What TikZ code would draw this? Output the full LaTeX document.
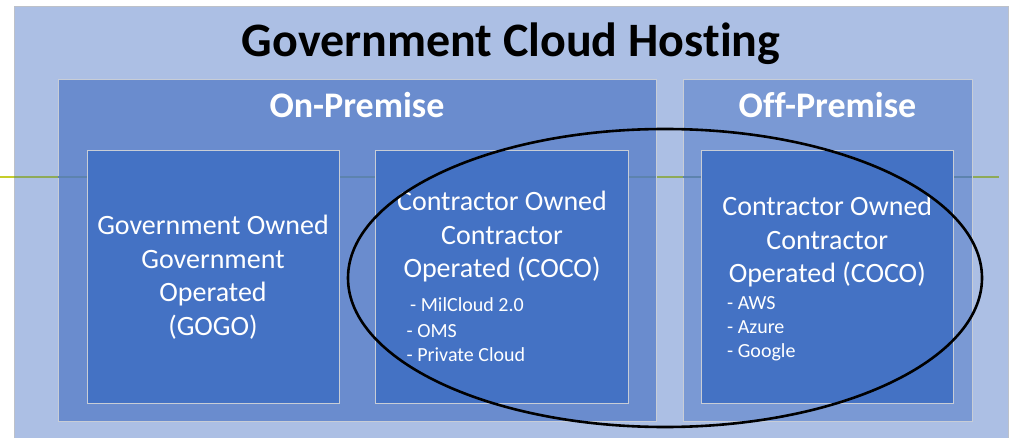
\documentclass[tikz,border=0pt]{standalone}
\usepackage{fontspec}
\setmainfont{Carlito}[Ligatures=NoCommon]
\usetikzlibrary{shapes.geometric}
\definecolor{outerfill}{RGB}{172,191,228}
\definecolor{onfill}{RGB}{106,140,206}
\definecolor{offfill}{RGB}{122,153,212}
\definecolor{innerfill}{RGB}{68,114,196}
\definecolor{edgegray}{RGB}{200,205,214}
\definecolor{railyellow}{RGB}{198,206,42}
\definecolor{railgreen}{RGB}{142,170,88}
\definecolor{railblue}{RGB}{93,131,174}
\tikzset{
  panel/.style={draw=edgegray, line width=0.9pt, inner sep=0pt, outer sep=0pt},
  premise/.style={panel, fill=onfill},
  cellbox/.style={panel, fill=innerfill},
  % anchor=base of a multi-line node sits on its last line
  celltext/.style={text=white, align=center, font=\fontsize{28}{33.5}\selectfont, inner sep=0pt, anchor=base},
  listtext/.style={text=white, align=left, font=\fontsize{20}{25}\selectfont, inner sep=0pt, anchor=base west},
  headtext/.style={text=white, font=\fontsize{36}{42}\selectfont\bfseries, inner sep=0pt, anchor=base},
  rail/.style={line width=2pt}
}
\begin{document}
\begin{tikzpicture}[x=1pt,y=-1pt]
\useasboundingbox (0,0) rectangle (1009,438);
\clip (0,0) rectangle (1009,438);
\fill[white] (0,0) rectangle (1009,438);

% outer frame
\node[panel, fill=outerfill, draw=edgegray!85!gray, minimum width=994pt, minimum height=440pt] (frame) at (511,226) {};

% horizontal rail behind the panels
\coordinate (railA) at (0,176.7);
\coordinate (railB) at (14,176.7);
\coordinate (railC) at (999,176.7);
\draw[rail, railyellow] (railA) -- (railB);
\draw[rail, railgreen] (railB) -- (railC);

% on / off premise panels
\node[premise, minimum width=598pt, minimum height=342pt] (onprem) at (357,250) {};
\node[premise, fill=offfill, minimum width=289pt, minimum height=342pt] (offprem) at (827.5,250) {};
\draw[rail, railblue] (onprem.west |- railA) -- (onprem.east |- railA);
\draw[rail, railblue] (offprem.west |- railA) -- (offprem.east |- railA);

% inner cells
\node[cellbox, minimum width=252pt, minimum height=252.5pt] (gogo) at (213,276.75) {};
\node[cellbox, minimum width=253pt, minimum height=252.5pt] (coco1) at (502,276.75) {};
\node[cellbox, minimum width=252.5pt, minimum height=252.5pt] (coco2) at (827.25,276.75) {};

% headings
\node[inner sep=0pt, anchor=base, font=\fontsize{48}{56}\selectfont\bfseries] (title) at (511,57) {Government Cloud Hosting};
\node[headtext] (onhead) at (357,118) {On-Premise};
\node[headtext] (offhead) at (827.5,118) {Off-Premise};

% cell texts
\node[celltext] (gogotext) at (213,335) {Government Owned\\Government\\Operated\\(GOGO)};
\node[celltext] (coco1text) at (502,278) {Contractor Owned\\Contractor\\Operated (COCO)};
\node[celltext] (coco2text) at (827.25,283) {Contractor Owned\\Contractor\\Operated (COCO)};

\node[listtext] (milcloud) at (410,311.7) {- MilCloud 2.0};
\node[listtext] (oms) at (406.5,337) {- OMS};
\node[listtext] (private) at (406.5,361.7) {- Private Cloud};

\node[listtext] (aws) at (727,309) {- AWS};
\node[listtext] (azure) at (727,333) {- Azure};
\node[listtext] (google) at (727,357) {- Google};

% highlight ring around contractor-operated cells
\node[draw=black, line width=2.6pt, ellipse, minimum width=634pt, minimum height=298pt, inner sep=0pt] (ring) at (665,278) {};
\end{tikzpicture}
\end{document}
